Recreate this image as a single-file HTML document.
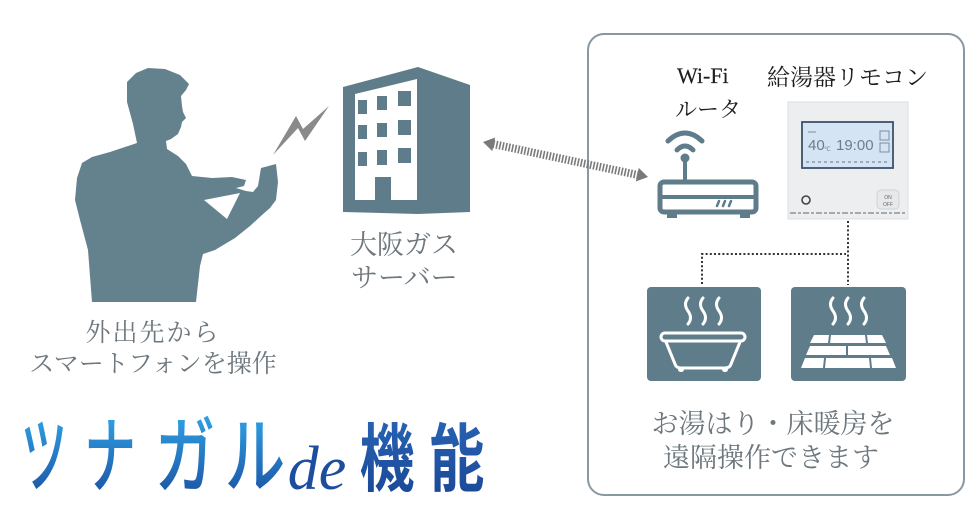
<!DOCTYPE html>
<html><head><meta charset="utf-8">
<style>
html,body{margin:0;padding:0;background:#fff;}
svg{display:block;}
.lbl{font-family:"Liberation Serif","Noto Serif CJK SC",serif;fill:#6d777d;}
.dk{font-family:"Liberation Serif","Noto Serif CJK SC",serif;fill:#1e1e1e;}
.logo{font-family:"Liberation Sans","Noto Sans CJK JP",sans-serif;}
</style></head><body>
<svg width="980" height="512" viewBox="0 0 980 512" xmlns="http://www.w3.org/2000/svg">
<defs>
<linearGradient id="kg" x1="0" y1="0" x2="0" y2="1">
<stop offset="0" stop-color="#2fa6e8"/><stop offset="1" stop-color="#1b4c9e"/>
</linearGradient>
<linearGradient id="kg2" x1="0" y1="0" x2="0" y2="1">
<stop offset="0" stop-color="#2863b4"/><stop offset="1" stop-color="#1a4796"/>
</linearGradient>
</defs>

<!-- right box -->
<rect x="588" y="34" width="376" height="461" rx="16" fill="none" stroke="#8898a3" stroke-width="2"/>

<!-- person silhouette -->
<path fill="#64818e" d="M92,302 L88,250 L80,220 L75,200 L77,178 L82,163 L92,157 L110,152 L122,148 L137,143 L133,124 L127,102 L127,82 L136,73 L148,68 L165,69 L180,75 L189,84 L186,90 L181,96 L182,106 L183,112 L186,118 L182,122 L181,127 L178,134 L171,139 L166,141 L167,149 L178,156 L186,164 L192,176 L212,178 L232,177 L246,180 L244,186 L236,188 L246,191 L253,192 L258,186 L261,168 L276,164 L278,182 L276,200 L270,208 L262,215 L250,226 L235,238 L215,250 L203,254 L200,266 L196,302 Z"/>
<polygon fill="#fff" points="204,200 240,193 227,219"/>
<!-- lightning -->
<polygon fill="#8a8a8a" points="273,155 296,116 303,129 329,106 305,141 298,128"/>

<!-- building -->
<polygon fill="#5f7c8a" points="343,87 418,67 470,85 470,212 418,214 343,212"/>
<polygon fill="#fff" points="355,94 417,79 417,200 355,200"/>
<g fill="#5f7c8a">
<rect x="358" y="100" width="9" height="14"/>
<rect x="377" y="96" width="10" height="14"/>
<rect x="398" y="91" width="13" height="15"/>
<rect x="358" y="125" width="9" height="14"/>
<rect x="377" y="123" width="10" height="14"/>
<rect x="398" y="120" width="13" height="15"/>
<rect x="358" y="152" width="9" height="14"/>
<rect x="377" y="150" width="10" height="15"/>
<rect x="398" y="148" width="13" height="15"/>
<rect x="375" y="177" width="16" height="25"/>
</g>
<text class="lbl" x="350" y="254" font-size="27">大阪ガス</text>
<text class="lbl" x="351" y="287" font-size="27">サーバー</text>

<!-- person labels -->
<text class="lbl" x="153" y="341" font-size="25" text-anchor="middle" letter-spacing="2">外出先から</text>
<text class="lbl" x="153" y="372" font-size="25" text-anchor="middle">スマートフォンを操作</text>

<!-- hatched double arrow -->
<line x1="493" y1="144" x2="638" y2="175" stroke="#7a7a7a" stroke-width="8" stroke-dasharray="1.6 1.6"/>
<polygon fill="#7a7a7a" points="483,142 492.3,151.1 495.2,137.5"/>
<polygon fill="#7a7a7a" points="648,177 635.8,181.5 638.7,167.9"/>

<!-- Wi-Fi router labels -->
<text class="dk" x="677" y="83" font-size="22" stroke="#1e1e1e" stroke-width="0.15">Wi-Fi</text>
<text class="dk" x="767" y="85" font-size="23">給湯器リモコン</text>
<text class="dk" x="675" y="117" font-size="22">ルータ</text>

<!-- router icon -->
<g stroke="#5f7c8a" fill="none" stroke-linecap="round">
<path d="M668,141 Q685,125 702,141" stroke-width="5"/>
<path d="M677,150 Q685,142 693,150" stroke-width="5"/>
<line x1="685" y1="158" x2="685" y2="182" stroke-width="4"/>
<rect x="660" y="182" width="96" height="30" rx="4" stroke-width="5"/>
<line x1="660" y1="197" x2="756" y2="197" stroke-width="4"/>
<g stroke-width="2.5"><line x1="717" y1="206" x2="719" y2="201"/><line x1="723" y1="206" x2="725" y2="201"/><line x1="729" y1="206" x2="731" y2="201"/></g>
</g>
<circle cx="685" cy="158" r="4.5" fill="#5f7c8a"/>
<rect x="667" y="213" width="10" height="5" fill="#5f7c8a"/>
<rect x="740" y="213" width="10" height="5" fill="#5f7c8a"/>

<!-- remote controller -->
<rect x="788" y="102" width="120" height="117" fill="#eceeef" stroke="#dcdfe1" stroke-width="1"/>
<rect x="802" y="122" width="91" height="46" fill="#d4e4f2" stroke="#3d5170" stroke-width="1.8"/>
<text x="808" y="150" font-family="Liberation Sans, sans-serif" font-size="15" fill="#6b7d90">40</text>
<text x="824" y="151" font-family="Liberation Sans, sans-serif" font-size="6" fill="#6b7d90">℃</text>
<text x="836" y="150" font-family="Liberation Sans, sans-serif" font-size="15" fill="#6b7d90">19:00</text>
<rect x="880" y="131" width="9" height="9" fill="none" stroke="#7b8ea3" stroke-width="1"/>
<rect x="880" y="143" width="9" height="9" fill="none" stroke="#7b8ea3" stroke-width="1"/>
<line x1="806" y1="162" x2="890" y2="162" stroke="#9aabbd" stroke-width="2" stroke-dasharray="3 3"/>
<line x1="808" y1="132" x2="816" y2="132" stroke="#9aabbd" stroke-width="1.5"/>
<circle cx="806" cy="200" r="4" fill="none" stroke="#444" stroke-width="1.6"/>
<rect x="877" y="190" width="22" height="19" rx="4" fill="#e6e8e9" stroke="#cfd3d6" stroke-width="1"/>
<text x="888" y="199" font-family="Liberation Sans, sans-serif" font-size="5" fill="#666" text-anchor="middle">ON</text>
<text x="888" y="206" font-family="Liberation Sans, sans-serif" font-size="5" fill="#666" text-anchor="middle">OFF</text>
<line x1="790" y1="213" x2="905" y2="213" stroke="#8d9499" stroke-width="1.5" stroke-dasharray="6 2 3 2"/>

<!-- dotted connectors -->
<g stroke="#333" stroke-width="2" fill="none" stroke-dasharray="2 2.2">
<path d="M702,284 V254 H846"/>
<path d="M848,221 V285"/>
</g>

<!-- tiles -->
<rect x="647" y="287" width="114" height="94" rx="4" fill="#5f7c8a"/>
<rect x="791" y="287" width="115" height="94" rx="4" fill="#5f7c8a"/>
<g stroke="#fff" stroke-width="3" fill="none" stroke-linecap="round">
<path d="M688,298 q-5,6 0,13 t0,13"/>
<path d="M703,298 q-5,6 0,13 t0,13"/>
<path d="M719,298 q-5,6 0,13 t0,13"/>
<path d="M833,298 q-5,6 0,13 t0,13"/>
<path d="M848,298 q-5,6 0,13 t0,13"/>
<path d="M864,298 q-5,6 0,13 t0,13"/>
<rect x="661" y="333" width="84" height="8" rx="4"/>
<path d="M666,342 L675,364 Q676,368 681,368 H725 Q730,368 731,364 L740,342"/>
</g>
<rect x="678" y="367" width="6" height="5" rx="2.5" fill="#fff"/>
<rect x="722" y="367" width="6" height="5" rx="2.5" fill="#fff"/>
<g fill="#fff">
<polygon points="814,335 829,335 828,343 810,343"/>
<polygon points="831,335 865,335 866,343 830,343"/>
<polygon points="867,335 882,335 886,343 868,343"/>
<polygon points="810,346 846,346 846,355 806,355"/>
<polygon points="848,346 886,346 890,355 848,355"/>
<polygon points="805,358 824,358 823,368 801,368"/>
<polygon points="826,358 869,358 870,368 825,368"/>
<polygon points="871,358 892,358 896,368 872,368"/>
</g>

<text class="lbl" x="773" y="433" font-size="27" text-anchor="middle">お湯はり・床暖房を</text>
<text class="lbl" x="771" y="467" font-size="27" text-anchor="middle">遠隔操作できます</text>

<!-- logo -->
<g class="logo" fill="url(#kg)" font-weight="500">
<text transform="translate(44,486) scale(0.55,1)" font-size="84" text-anchor="middle">ツ</text>
<text transform="translate(110,486) scale(0.62,1)" font-size="84" text-anchor="middle">ナ</text>
<text transform="translate(185,486) scale(0.72,1)" font-size="84" text-anchor="middle">ガ</text>
<text transform="translate(255,486) scale(0.72,1)" font-size="84" text-anchor="middle">ル</text>
</g>
<text x="317" y="489" font-family="Liberation Serif, serif" font-style="italic" font-size="62" fill="#1d4d9e" text-anchor="middle">de</text>
<g class="logo" fill="url(#kg2)" font-weight="bold">
<text transform="translate(387,485) scale(0.74,1)" font-size="74" text-anchor="middle">機</text>
<text transform="translate(457,485) scale(0.74,1)" font-size="74" text-anchor="middle">能</text>
</g>
</svg>
</body></html>
